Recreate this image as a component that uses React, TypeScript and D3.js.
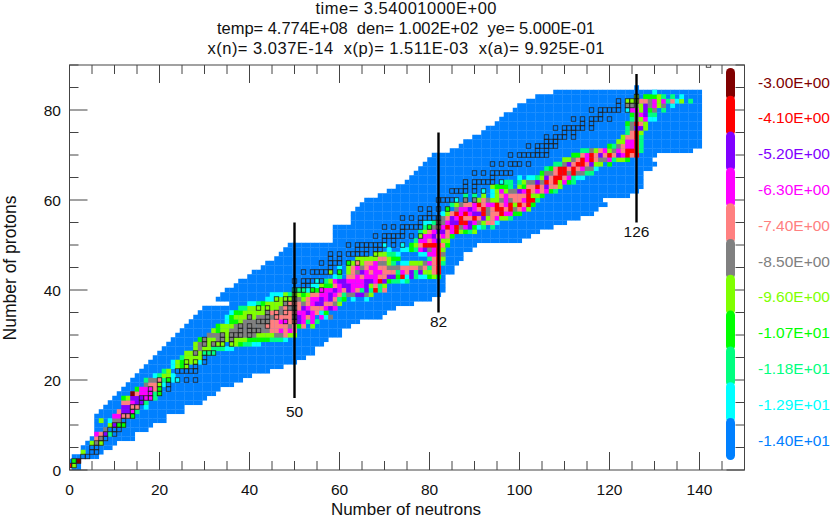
import React from "react";
import * as d3 from "d3";

const titleLines = [
  "time= 3.54001000E+00",
  "temp= 4.774E+08  den= 1.002E+02  ye= 5.000E-01",
  "x(n)= 3.037E-14  x(p)= 1.511E-03  x(a)= 9.925E-01",
];
const titleWidths = [181, 378, 397];
const xTicks = [0, 20, 40, 60, 80, 100, 120, 140];
const yTicks = [0, 20, 40, 60, 80];
const levelLabels = ["-3.00E+00", "-4.10E+00", "-5.20E+00", "-6.30E+00", "-7.40E+00", "-8.50E+00", "-9.60E+00", "-1.07E+01", "-1.18E+01", "-1.29E+01", "-1.40E+01"];
const levelCodes = ["d", "r", "v", "m", "p", "g", "l", "G", "s", "c", "b"];
const palette: Record<string, string> = {
  d: "#800000", r: "#ff0000", v: "#8000ff", m: "#ff00ff", p: "#ff8080", g: "#808080",
  l: "#80ff00", G: "#00ff00", s: "#00ff80", c: "#00ffff", b: "#0080ff",
};
// neutron number, line bottom and top in proton number, label baseline in proton number
const magicNeutrons: [number, number, number, number][] = [
  [50, 16, 55, 11.8],
  [82, 35, 75, 31.8],
  [126, 55, 88, 51.8],
];

// lowest and highest neutron number of the network, index = proton number
const nMin = [1, 0, 0, 1, 3, 3, 4, 5, 6, 6, 6, 6, 6, 7, 8, 9, 10, 11, 12, 13, 14, 15, 16, 17, 18, 19, 20, 21, 22, 23, 24, 25, 26, 27, 28, 29, 30, 36, 33, 34, 35, 37, 38, 40, 41, 43, 44, 46, 47, 48, 49, 59, 59, 59, 59, 63, 63, 63, 64, 65, 66, 69, 71, 73, 75, 76, 77, 78, 79, 80, 81, 85, 87, 88, 90, 92, 93, 95, 96, 97, 99, 100, 102, 104, 108, 126];
const nMax = [2, 2, 2, 6, 7, 9, 10, 14, 14, 17, 18, 21, 21, 25, 25, 29, 30, 32, 33, 36, 38, 40, 44, 47, 50, 52, 54, 54, 56, 57, 60, 60, 62, 64, 69, 70, 72, 76, 80, 82, 83, 83, 83, 83, 85, 85, 86, 87, 87, 89, 90, 100, 102, 104, 107, 110, 113, 116, 117, 119, 118, 124, 126, 127, 127, 127, 127, 129, 130, 129, 130, 138, 140, 140, 140, 140, 140, 140, 140, 140, 140, 140, 140, 140, 140, 126];

// proton number, first neutron number, abundance class per neutron number
const abundanceRows: [number, number, string][] = [
  [1, 0, "rl"], [2, 1, "Gd"], [4, 3, "l"], [6, 5, "lgl"], [7, 6, "pg"], [8, 6, "mpvs"], [9, 8, "g"],
  [10, 9, "lvGG"], [11, 7, "l.cgg"], [12, 10, "mmppG"], [13, 11, "pvvms"], [14, 12, "vvpp.c"],
  [15, 12, "ppmvvs"], [16, 12, "Glvvvmms"], [17, 14, "dpmmmsG"], [18, 15, "GmmmpG"], [19, 17, "gpplc"],
  [20, 17, "sggpsGcc"], [21, 19, "csllc"], [22, 21, "sl"], [23, 23, "clGl"], [24, 23, "clGlllc"],
  [25, 25, "sllll"], [26, 26, "llglsss"], [27, 28, "lgllssscc"], [28, 28, "lgglgll.llGsscc"],
  [29, 29, "GgllgglglllGGGGGsssc"], [30, 31, "gggglggggggllllggpll"], [31, 32, "lGllgggggggggppmpmp"],
  [32, 33, "GlllgggggggpppppgpGp.l"], [33, 35, "cGGlggggggppmmppvmsms"], [34, 35, "cGlllglggggppppgvmpm.mcg"],
  [35, 36, "cGGlllllgppgpppmmvmpcG"], [36, 38, "sslllllllgpggpvmpppmvm"], [37, 40, "ccsGllllgpppgpmvvppgl"],
  [38, 44, "ccllllgglpmmvmvpsG.c..c"], [39, 45, "ccclsllGlppmmvmpsggvvgl"], [40, 50, "ssscGGmmmvmpvmpsvsrsp"],
  [41, 54, "cclGGpmvvmmmvlpsl"], [42, 55, "c.slmvvmmmmvvmrvGsscs"], [43, 59, "cs.ppmpmmmppvvGrcvsccGlG"],
  [44, 58, "l.G.lpgvmpmmpppsmpvsvllpr"], [45, 60, "c.lpmgpmmppgggppppgpspr"], [46, 62, "Glplppmggls.cclllgmprs"],
  [47, 64, "lllllpplGG......sprl"], [48, 68, "lllssc....ccmmrg"], [49, 71, "c..ccGsmvgmrl"],
  [50, 70, "c...c.GlprrrrpG"], [51, 77, "smmpmvll"], [52, 78, "lmmvpmpG"], [53, 78, "slpmvvpmrlGsl"],
  [54, 79, "sGgpmrmrgmvGcs.s"], [55, 79, "ccsggmvvrrvmglppc"], [56, 83, "gpvmrpprpvlpmlls"],
  [57, 83, "clprmrmvvrgpprmmGG"], [58, 84, "G.gmmvmprgprrprgpml"], [59, 85, "slgppmrpmmrpmrlrprG"],
  [60, 86, "c.g.glpgllgmgppmrrs"], [61, 88, "s.s.l.clpmpppprllG"], [62, 92, "c.clmlggvmrpmpmGs"],
  [63, 94, "lGGGs.lGpprpvppl"], [64, 96, "css.slggvgrprlmGs"], [65, 100, "c.ccslvprrpmscc"],
  [66, 105, "Gggprrgrggss"], [67, 106, "sGprrprpmggc"], [68, 108, "ssgvprrpvll.G"], [69, 110, "llgprmrpggmsllG"],
  [70, 112, "GGpmrpvprpvmrpr"], [71, 114, "ssglpmlgmprrrs"], [72, 120, "Gsgpmmrs"], [73, 122, "llmmrs"],
  [74, 123, "lpprs"], [75, 124, "sprl"], [76, 124, "sgvvl"], [77, 124, "Ggrpl"], [78, 125, "sglmcc"],
  [79, 125, "Ggmvss"], [80, 124, "cmmlvGg.s"], [81, 124, "ggglvgmlg.c"], [82, 124, "lllppgmlmspcl.s"],
  [83, 126, "l.GGGls.s.c"], [84, 130, "c"],
];

// stable nuclei: proton number, neutron numbers
const stableRows: [number, number[]][] = [
  [1, [0, 1]], [2, [1, 2]], [3, [3, 4]], [4, [5, 6]], [5, [5, 6]], [6, [6, 7]], [7, [7, 8]], [8, [8, 10]],
  [9, [9, 10, 11]], [10, [10, 11, 12]], [11, [12]], [12, [12, 13, 14]], [13, [14]], [14, [14, 15]], [15, [16]],
  [16, [16, 17, 18]], [17, [18, 20]], [18, [18, 20, 22]], [19, [20, 22]], [20, [20, 22, 24, 26, 28]],
  [22, [24, 25, 26, 27, 28]], [23, [26, 28]], [24, [26, 28, 30]], [25, [30]], [26, [28, 30, 31, 32]],
  [28, [30, 32, 33, 34, 36]], [29, [30, 34, 36]], [30, [34, 36, 37, 38, 40]], [31, [38, 40, 41, 42]],
  [32, [38, 40, 44]], [33, [42, 43, 44, 48, 50]], [34, [40, 44, 46, 50]], [35, [44, 46, 48, 50]],
  [36, [42, 44, 49, 50]], [37, [48, 49, 50]], [38, [46, 48, 49, 50]], [39, [50]], [40, [50, 51, 52, 54, 56]],
  [41, [52, 53]], [42, [50, 52, 53, 54, 55, 56]], [44, [52, 54, 55, 56, 57, 58, 60]], [45, [58]],
  [46, [56, 58, 59, 60, 62, 64]], [47, [58, 60]], [48, [58, 60, 62, 63, 64, 65, 66, 68]], [49, [64, 66, 68, 69]],
  [50, [62, 64, 65, 66, 67, 68, 69, 70, 72, 74]], [51, [70, 72]], [52, [68, 70, 71, 72, 73, 74, 76, 78]], [53, [74]],
  [54, [70, 72, 74, 75, 76, 77, 78, 80, 82]], [55, [78, 82]], [56, [74, 76, 78, 79, 80, 81, 82]], [57, [80]],
  [58, [78, 80, 82, 84]], [60, [82, 83, 84, 85, 86, 88, 90]], [62, [85, 86, 87, 88, 90, 92]], [63, [88, 90]],
  [64, [88, 90, 91, 92, 93, 94, 96]], [65, [94]], [66, [90, 92, 94, 95, 96, 97, 98]], [68, [94, 96, 98, 99, 100, 102]],
  [70, [98, 100, 101, 102, 103, 104, 105, 106]], [71, [104, 106]], [72, [102, 104, 105, 106, 107, 108]],
  [73, [106, 107, 108]], [74, [106, 108, 109, 110, 112]], [75, [110, 112]], [76, [108, 110, 111, 112, 113, 114, 116]],
  [77, [114, 116]], [78, [112, 114, 116, 117, 118, 120]], [79, [118]], [80, [116, 118, 119, 120, 121, 122, 124]],
  [81, [122, 124, 125]], [82, [122, 124, 125, 126]], [83, [126]], [90, [142]],
];

const WIDTH = 830;
const HEIGHT = 519;
const FONT = "'Liberation Sans', Arial, sans-serif";
const INK = "#111";

const x = d3.scaleLinear().domain([0, 150]).range([69.5, 744.5]);
const y = d3.scaleLinear().domain([0, 90]).range([470, 65]);
const levelY = d3.scaleLinear().domain([0, 10]).range([82, 440]);
const cw = x(1) - x(0);
const ch = y(0) - y(1);
const overlap = 0.3; // cells nearly touch, leaving only a faint seam

export default function App() {
  const blue: React.ReactNode[] = [];
  nMin.forEach((lo, z) => {
    d3.range(lo, nMax[z] + 1).forEach((n) => {
      blue.push(<rect key={`b${z}-${n}`} x={x(n) - cw / 2} y={y(z) - ch / 2} width={cw + overlap} height={ch + overlap} fill={palette.b} />);
    });
  });
  const hot: React.ReactNode[] = [];
  abundanceRows.forEach(([z, n0, codes]) => {
    codes.split("").forEach((code, i) => {
      if (code === ".") return;
      hot.push(<rect key={`h${z}-${i}`} x={x(n0 + i) - cw / 2} y={y(z) - ch / 2} width={cw + overlap} height={ch + overlap} fill={palette[code]} />);
    });
  });
  const stable: React.ReactNode[] = [];
  stableRows.forEach(([z, ns]) => {
    ns.forEach((n) => {
      stable.push(<rect key={`s${z}-${n}`} x={x(n) - cw / 2} y={y(z) - ch / 2} width={cw} height={ch} fill="none" stroke="#222" strokeWidth={0.8} />);
    });
  });
  const xMinor = d3.range(0, 151, 5);
  const yMinor = d3.range(0, 91, 5);
  return (
    <svg width={WIDTH} height={HEIGHT} style={{ position: "absolute", left: 0, top: 0 }} fontFamily={FONT}>
      <defs>
        <clipPath id="plot"><rect x={x(0)} y={y(90)} width={x(150) - x(0)} height={y(0) - y(90)} /></clipPath>
      </defs>
      <rect width={WIDTH} height={HEIGHT} fill="#fff" />
      <g clipPath="url(#plot)">
        {blue}
        {hot}
        {stable}
      </g>
      {magicNeutrons.map(([n, z0, z1]) => (
        <line key={n} x1={x(n)} x2={x(n)} y1={y(z0)} y2={y(z1)} stroke="#000" strokeWidth={2.4} />
      ))}
      {magicNeutrons.map(([n, , , zl]) => (
        <text key={n} x={x(n)} y={y(zl)} textAnchor="middle" fontSize={15.5} fill={INK}>{n}</text>
      ))}
      <g stroke="#444" strokeWidth={1}>
        {xMinor.map((t) => {
          const len = t % 20 === 0 ? 18 : 9;
          return (
            <g key={t}>
              <line x1={x(t)} x2={x(t)} y1={y(0)} y2={y(0) - len} />
              <line x1={x(t)} x2={x(t)} y1={y(90)} y2={y(90) + len} />
            </g>
          );
        })}
        {yMinor.map((t) => {
          const len = t % 20 === 0 ? 18 : 9;
          return (
            <g key={t}>
              <line x1={x(0)} x2={x(0) + len} y1={y(t)} y2={y(t)} />
              <line x1={x(150)} x2={x(150) - len} y1={y(t)} y2={y(t)} />
            </g>
          );
        })}
        <rect x={x(0)} y={y(90)} width={x(150) - x(0)} height={y(0) - y(90)} fill="none" />
      </g>
      {levelCodes.map((code, i) => {
        const cy = levelY(i);
        const top = i === 0 ? cy - 14 : cy - 22;
        const bottom = i === levelCodes.length - 1 ? cy + 20 : cy + 18;
        return (
          <line key={code} x1={730.5} x2={730.5} y1={top + 4.5} y2={bottom - 4.5} stroke={palette[code]} strokeWidth={9} strokeLinecap="round" />
        );
      })}
      {levelLabels.map((t, i) => (
        <text key={t} x={758} y={levelY(i) + 5.5} fontSize={15.5} fill={palette[levelCodes[i]]}>{t}</text>
      ))}
      {titleLines.map((t, i) => (
        <text key={i} x={406} y={14 + i * 20} textAnchor="middle" fontSize={16.5} textLength={titleWidths[i]} lengthAdjust="spacing" fill={INK} style={{ whiteSpace: "pre" }}>{t}</text>
      ))}
      {xTicks.map((t) => (
        <text key={t} x={x(t)} y={495} textAnchor="middle" fontSize={15.5} fill={INK}>{t}</text>
      ))}
      {yTicks.map((t) => (
        <text key={t} x={61} y={y(t) + 5.5} textAnchor="end" fontSize={15.5} fill={INK}>{t}</text>
      ))}
      <text x={406} y={515} textAnchor="middle" fontSize={17} fill={INK}>Number of neutrons</text>
      <text transform={`translate(16,268) rotate(-90)`} textAnchor="middle" fontSize={17.5} fill={INK}>Number of protons</text>
    </svg>
  );
}
